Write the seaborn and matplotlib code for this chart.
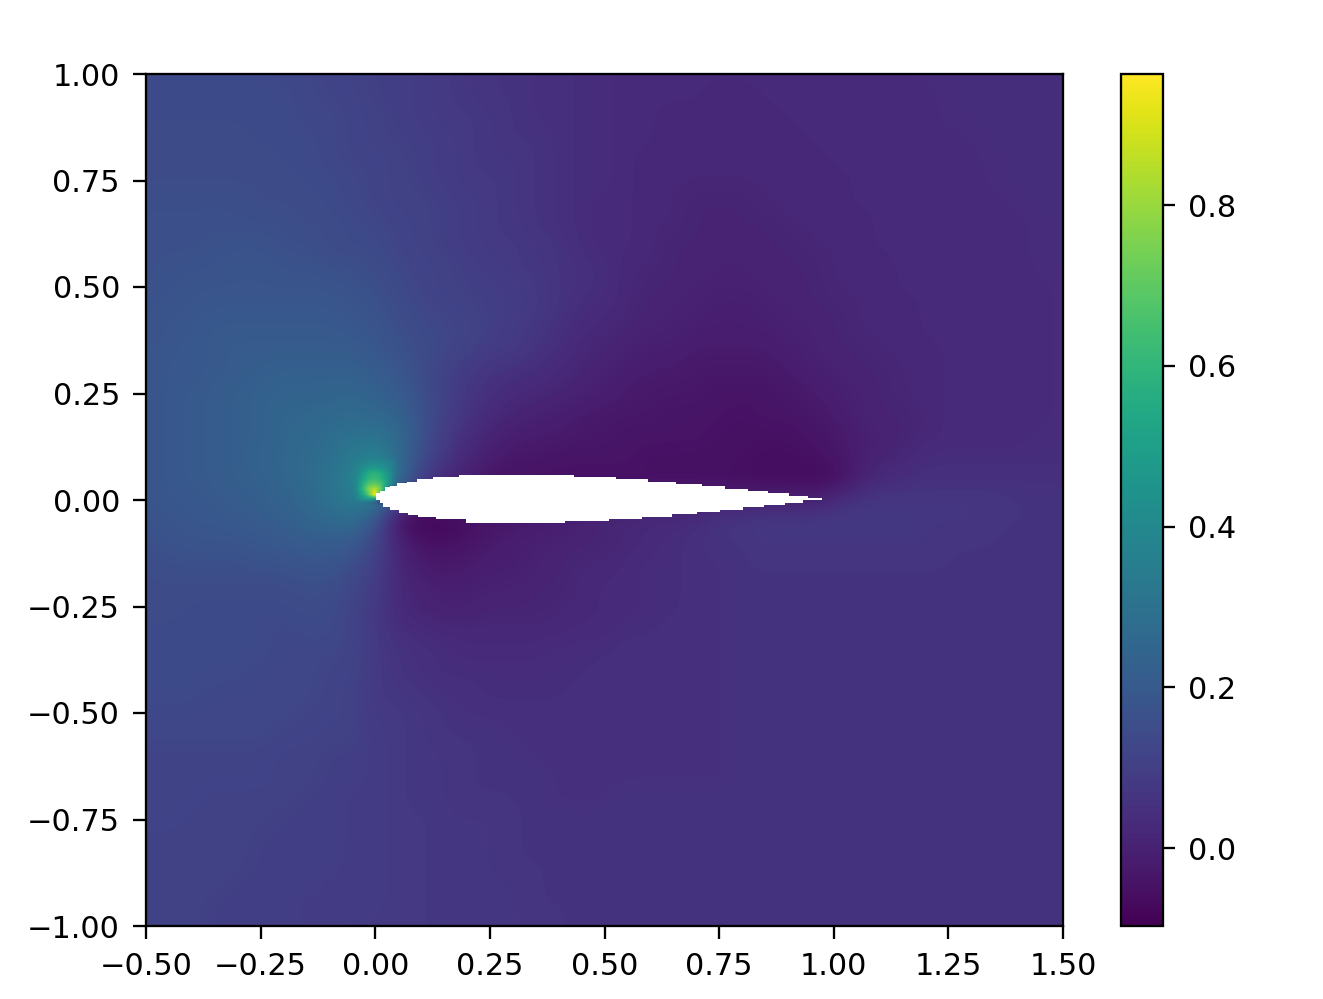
import numpy as np
import pandas as pd
import seaborn as sns
import matplotlib
matplotlib.use('Agg')
import matplotlib.pyplot as plt

# field values in hundredths, rows y = 1.00 .. -1.00, columns x = -0.50 .. 1.50, step 0.05
field_rows = [
    [14,14,14,14,14,14,13,13,12,11,10,10,9,8,7,6,6,5,5,4,4,3,3,3,3,3,3,3,3,3,3,3,3,3,4,4,4,4,4,4,4],
    [14,14,14,14,14,14,14,13,12,12,10,10,9,8,7,6,6,5,5,4,4,3,3,3,3,2,2,3,3,3,3,3,3,3,3,4,4,4,4,4,4],
    [14,14,14,14,14,14,14,13,13,12,11,10,9,8,8,7,6,5,5,4,4,3,3,2,2,2,2,2,3,3,3,3,3,3,3,4,4,4,4,4,4],
    [15,15,15,15,15,14,14,14,13,12,11,10,10,9,8,7,6,6,5,4,4,3,3,2,2,2,2,2,2,3,3,3,3,3,3,3,4,4,4,4,4],
    [15,15,15,15,15,15,14,14,13,12,12,11,10,9,8,7,7,6,5,4,4,3,2,2,2,2,2,2,2,2,3,3,3,3,3,3,3,4,4,4,4],
    [15,15,15,15,15,15,15,14,14,13,12,11,10,9,8,8,7,6,5,4,4,3,2,2,2,2,2,2,2,2,2,3,3,3,3,3,3,4,4,4,4],
    [16,16,16,16,16,15,15,15,14,13,12,11,11,10,9,8,7,6,5,4,3,3,2,2,1,1,1,2,2,2,2,3,3,3,3,3,3,3,4,4,4],
    [16,16,16,16,16,16,16,15,15,14,13,12,11,10,9,8,7,6,5,4,3,3,2,2,1,1,1,1,2,2,2,2,3,3,3,3,3,3,3,4,4],
    [16,16,16,17,17,17,16,16,15,14,14,12,11,10,9,8,8,7,6,4,3,3,2,1,1,1,1,1,1,2,2,2,3,3,3,3,3,3,3,4,4],
    [16,17,17,17,18,18,17,17,16,16,15,13,12,11,10,9,8,7,6,5,4,2,2,1,1,0,0,1,1,1,2,2,2,3,3,3,3,3,3,4,4],
    [16,17,18,18,18,18,18,18,18,17,16,14,12,11,10,10,9,8,6,5,4,2,1,1,0,0,0,0,1,1,2,2,2,3,3,3,3,3,3,3,4],
    [17,18,18,19,19,19,19,19,19,18,17,15,13,12,11,10,9,8,6,4,3,2,1,0,0,-1,-1,0,0,1,1,2,2,2,3,3,3,3,3,3,4],
    [17,18,19,20,20,20,20,20,20,19,18,16,14,13,12,10,9,7,5,3,2,1,0,0,-1,-1,-1,-1,0,0,1,2,2,2,3,3,3,3,3,3,4],
    [18,19,19,20,21,21,21,21,21,21,19,17,15,13,11,9,8,6,4,2,1,0,-1,-1,-2,-2,-2,-2,-1,0,1,1,2,2,2,3,3,3,3,3,4],
    [18,19,19,20,21,22,23,23,23,23,21,19,15,11,8,6,5,4,3,1,0,-1,-2,-2,-3,-3,-3,-3,-2,-1,0,1,1,2,2,3,3,3,3,3,4],
    [18,19,20,21,22,23,24,24,24,25,23,21,16,11,7,5,3,2,1,0,-1,-2,-3,-3,-3,-4,-4,-4,-3,-2,-1,0,1,2,2,3,3,3,3,3,4],
    [18,19,20,21,22,23,25,25,26,27,26,24,17,11,6,3,1,0,-1,-2,-3,-3,-3,-4,-4,-4,-5,-4,-4,-3,-2,0,1,1,2,3,3,3,3,3,4],
    [18,19,20,21,22,23,25,26,28,30,31,27,17,9,4,1,-1,-2,-2,-3,-3,-4,-4,-4,-4,-5,-5,-5,-5,-4,-3,-1,0,1,2,3,3,3,3,4,4],
    [18,19,20,21,22,24,25,27,29,33,37,27,15,7,2,-1,-3,-3,-4,-4,-4,-4,-5,-5,-5,-5,-5,-6,-6,-5,-4,-1,1,2,4,4,4,4,4,4,4],
    [18,19,20,21,22,23,25,27,30,36,58,28,10,3,-1,-4,-5,-5,-5,-5,-5,-5,-5,-5,-5,-5,-6,-6,-6,-7,-6,-1,3,4,5,5,5,5,5,5,5],
    [18,19,19,20,21,22,24,26,30,34,35,10,2,-1,-2,-3,-3,-3,-3,-2,-2,-2,-1,-1,-1,0,0,0,0,0,3,6,7,7,7,7,7,7,6,6,6],
    [17,18,19,19,20,21,22,24,26,28,18,-5,-9,-8,-6,-4,-3,-2,-1,0,2,2,3,3,4,6,7,8,8,8,8,8,8,8,7,7,7,6,6,6,6],
    [16,17,18,18,18,19,20,21,21,20,13,1,-4,-5,-4,-2,-1,0,0,1,1,2,3,4,5,6,6,7,7,7,7,7,7,7,7,6,6,6,6,6,6],
    [15,16,16,16,16,17,17,18,18,16,10,2,-2,-3,-2,-1,-1,0,1,2,2,3,4,4,5,5,6,6,6,6,6,6,6,6,6,6,6,6,6,6,6],
    [15,15,15,15,15,15,15,16,16,13,9,3,0,-1,-1,0,0,1,1,2,3,3,4,4,5,5,6,6,6,6,6,6,6,6,6,6,6,6,6,6,6],
    [15,15,14,14,14,14,14,15,14,12,8,3,1,0,0,1,1,1,2,2,3,3,4,4,5,5,6,6,6,6,6,6,6,6,6,6,6,6,6,6,6],
    [14,14,14,14,14,14,13,14,14,12,8,4,3,2,2,2,2,2,2,3,3,4,4,5,5,5,6,6,6,6,6,6,6,6,6,6,6,6,6,6,6],
    [14,14,14,14,14,14,13,13,13,12,8,6,5,4,3,3,3,3,4,4,4,5,5,5,5,5,6,6,6,6,6,6,6,6,6,6,6,6,6,6,6],
    [14,14,14,14,14,13,13,13,12,12,8,6,5,4,4,4,4,4,4,4,5,5,5,5,5,5,6,6,6,6,6,6,6,6,6,6,6,6,6,6,6],
    [14,14,14,13,13,13,13,13,12,11,8,7,6,5,5,4,4,4,4,5,5,5,5,5,5,5,6,6,6,6,6,6,6,6,6,6,6,6,6,6,6],
    [13,13,13,13,13,13,13,12,12,11,8,8,7,6,5,5,5,5,5,5,5,5,5,5,5,5,6,6,6,6,6,6,6,6,6,6,6,6,6,6,6],
    [13,13,13,13,13,13,12,12,11,11,9,8,7,6,6,6,5,5,5,5,5,5,5,5,5,5,6,6,6,6,6,6,6,6,6,6,6,6,6,6,6],
    [12,12,12,12,12,12,11,11,10,10,9,8,7,7,6,6,6,5,5,5,5,5,5,5,5,5,6,6,6,6,6,6,6,6,6,6,6,6,6,6,6],
    [12,12,12,12,12,12,11,11,10,10,9,8,7,7,6,6,6,6,5,5,5,5,5,5,5,5,6,6,6,6,6,6,6,6,6,6,6,6,6,6,6],
    [12,12,12,11,11,11,11,10,10,9,9,8,7,7,6,6,6,6,5,5,5,6,6,6,6,6,6,6,6,6,6,6,6,6,6,6,6,6,6,6,6],
    [12,12,11,11,11,11,10,10,10,9,9,8,8,7,7,7,6,6,6,6,6,6,6,6,6,6,6,6,6,6,6,6,6,6,6,6,6,6,6,6,6],
    [11,11,11,11,11,10,10,10,10,9,9,8,8,7,7,7,6,6,6,6,6,6,6,6,6,6,6,6,6,6,6,6,6,6,6,6,6,6,6,6,6],
    [11,11,11,11,11,10,10,10,10,9,9,8,8,7,7,7,6,6,6,6,6,6,6,6,6,6,6,6,6,6,6,6,6,6,6,6,6,6,6,6,6],
    [11,11,11,11,10,10,10,10,9,9,9,8,8,7,7,7,7,6,6,6,6,6,6,6,6,6,6,6,6,6,6,6,6,6,6,6,6,6,6,6,6],
    [11,11,11,10,10,10,10,9,9,9,9,8,8,7,7,7,7,6,6,6,6,6,6,6,6,6,6,6,6,6,6,6,6,6,6,6,6,6,6,6,6],
    [11,11,11,10,10,10,10,9,9,9,8,8,8,7,7,7,7,7,6,6,6,6,6,6,6,6,6,6,6,6,6,6,6,6,6,6,6,6,6,6,6],
]
field_x = [round(-0.5 + 0.05 * i, 2) for i in range(41)]
field_y = [round(1.0 - 0.05 * i, 2) for i in range(41)]

# finer cells around the leading edge, hundredths
nose_rows = [
    [34,35,36,37,37,37,36,34,32],
    [35,37,38,40,41,40,38,35,32],
    [36,38,42,46,47,45,41,36,32],
    [36,40,48,56,58,55,47,38,32],
    [37,42,52,60,62,58,50,38,30],
    [37,44,58,68,70,66,52,35,25],
    [36,45,62,78,85,72,45,30,20],
    [35,42,55,72,96,60,30,20,10],
    [34,38,42,45,40,10,0,0,0],
    [30,30,25,15,0,-5,-8,-8,-8],
]
nose_x = [-0.05, -0.0375, -0.025, -0.0125, 0.0, 0.0125, 0.025, 0.0375, 0.05]
nose_y = [0.1, 0.0875, 0.075, 0.0625, 0.05, 0.0375, 0.025, 0.0125, 0.0, -0.0125]

# airfoil outline, stair steps
upper_x = [0.0016, 0.0103, 0.0212, 0.0321, 0.0468, 0.0686, 0.0917, 0.1266, 0.1833, 0.4335,
           0.525, 0.5955, 0.656, 0.712, 0.7628, 0.8136, 0.8572, 0.903, 0.9445, 0.9737]
upper_y = [0.0157, 0.0218, 0.0298, 0.0336, 0.0392, 0.043, 0.0486, 0.0533, 0.0587, 0.0533,
           0.0486, 0.043, 0.0376, 0.0322, 0.0265, 0.0211, 0.0157, 0.0101, 0.0047, 0.0047]
lower_x = [0.0016, 0.0103, 0.0175, 0.0321, 0.0518, 0.0721, 0.0939, 0.1325, 0.1979, 0.4138,
           0.5098, 0.5811, 0.6465, 0.7024, 0.7519, 0.8027, 0.8485, 0.8936, 0.9335, 0.9737]
lower_y = [0.0, -0.0077, -0.0157, -0.0235, -0.0312, -0.0359, -0.0406, -0.0453, -0.054, -0.0493,
           -0.0446, -0.0392, -0.0336, -0.0282, -0.0228, -0.0171, -0.0117, -0.0063, -0.0007, -0.0007]

x_ticks = [-0.5, -0.25, 0.0, 0.25, 0.5, 0.75, 1.0, 1.25, 1.5]
x_labels = ['−0.50', '−0.25', '0.00', '0.25', '0.50', '0.75', '1.00', '1.25', '1.50']
y_ticks = [1.0, 0.75, 0.5, 0.25, 0.0, -0.25, -0.5, -0.75, -1.0]
y_labels = ['1.00', '0.75', '0.50', '0.25', '0.00', '−0.25', '−0.50', '−0.75', '−1.00']
cbar_ticks = [0.0, 0.2, 0.4, 0.6, 0.8]
v_min = -0.097
v_max = 0.963


def to_col(x):
    return (np.asarray(x) + 0.5) / 0.05 + 0.5


def to_row(y):
    return (1.0 - np.asarray(y)) / 0.05 + 0.5


def stairs(xs, ys):
    return np.repeat(xs, 2)[1:], np.repeat(ys, 2)[:-1]


W, H = 1323, 999
fig = plt.figure(figsize=(W / 206.7, H / 206.7), dpi=206.7)
ax = fig.add_axes([146 / W, 1 - 926 / H, 917 / W, 852 / H])
cax = fig.add_axes([1121 / W, 1 - 926 / H, 42 / W, 852 / H])

df = pd.DataFrame(np.array(field_rows) / 100, index=field_y, columns=field_x)
sns.heatmap(df, ax=ax, cbar_ax=cax, cmap='viridis', vmin=v_min, vmax=v_max,
            xticklabels=False, yticklabels=False, cbar_kws={'ticks': cbar_ticks})

# show the same cells smoothly, same colour scale as the heatmap
mesh = ax.collections[0]
mesh.set_visible(False)
ax.imshow(df.values, cmap=mesh.cmap, norm=mesh.norm, interpolation='bicubic', aspect='auto',
          extent=(0, len(field_x), len(field_y), 0))

# nose patch fades out at its border so it blends into the coarse cells
nose = np.array(nose_rows) / 100
fade = np.ones(nose.shape)
fade[[0, -1], :] = 0
fade[:, [0, -1]] = 0
half = 0.00625
ax.imshow(nose, cmap=mesh.cmap, norm=mesh.norm, interpolation='bilinear', aspect='auto', alpha=fade,
          extent=(to_col(nose_x[0] - half), to_col(nose_x[-1] + half),
                  to_row(nose_y[-1] - half), to_row(nose_y[0] + half)))

ux, uy = stairs(upper_x, upper_y)
lx, ly = stairs(lower_x, lower_y)
ax.fill(to_col(np.r_[ux, lx[::-1]]), to_row(np.r_[uy, ly[::-1]]), color='white', lw=0, zorder=3)

ax.set_xlim(to_col(-0.5), to_col(1.5))
ax.set_ylim(to_row(-1.0), to_row(1.0))
ax.set_xticks(to_col(x_ticks), x_labels, rotation=0)
ax.set_yticks(to_row(y_ticks), y_labels, rotation=0)
ax.tick_params(length=4.5, width=0.8, pad=4.6, labelsize=10.6, bottom=True, left=True)
for spine in ax.spines.values():
    spine.set_visible(True)
    spine.set_linewidth(0.8)

cbar = mesh.colorbar
cbar.outline.set_visible(True)
cbar.outline.set_linewidth(0.8)
cbar.ax.tick_params(length=4.2, width=0.8, pad=4.4, labelsize=10.6)

plt.savefig('out.png', dpi=206.7)
plt.close()
